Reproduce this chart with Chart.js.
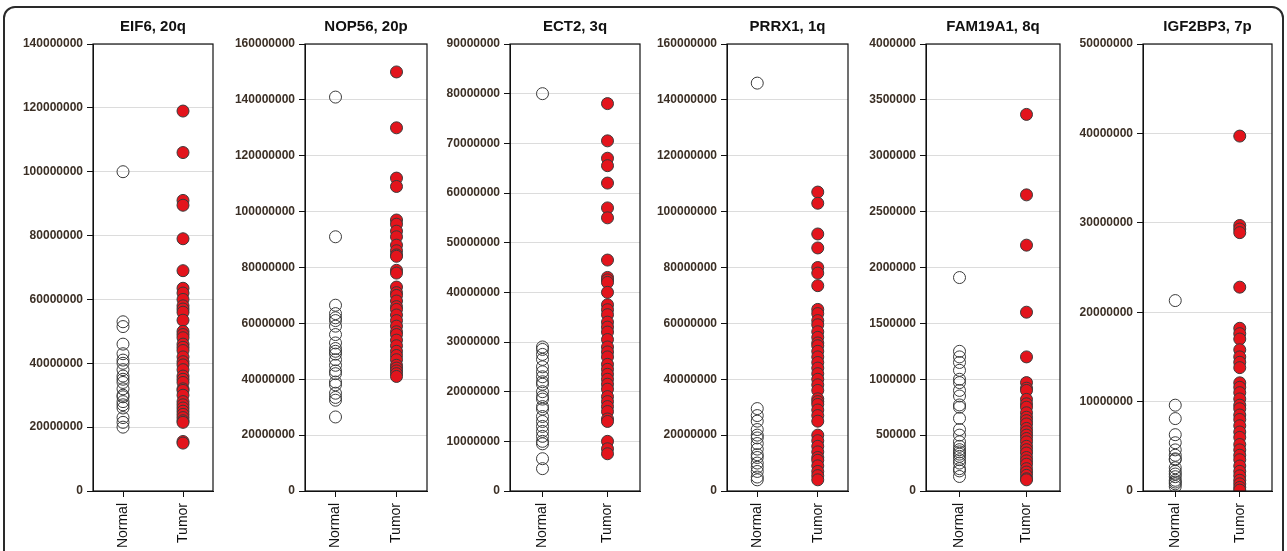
<!DOCTYPE html>
<html lang="en">
<head>
    <meta charset="UTF-8">
    <title>Expression, Normal vs Tumor</title>
    <script src="https://cdn.jsdelivr.net/npm/chart.js"></script>
    <style>
        body {
            margin: 0;
            padding: 0;
            background-color: #ffffff;
            font-family: Arial, "Liberation Sans", sans-serif;
        }
        #wrap {
            position: relative;
            width: 1287px;
            height: 551px;
            overflow: hidden;
        }
        #frame {
            position: absolute;
            left: 3px;
            top: 6px;
            width: 1277px;
            height: 620px;
            border: 2px solid #2a2a2a;
            border-radius: 12px;
        }
        .panel {
            position: absolute;
            top: 0;
            height: 551px;
        }
    </style>
</head>
<body>
    <div id="wrap">
        <div id="frame"></div>
    </div>

    <script>
        // categories and panel titles
        const groups = ['Normal', 'Tumor'];
        const titles = ['EIF6, 20q', 'NOP56, 20p', 'ECT2, 3q', 'PRRX1, 1q', 'FAM19A1, 8q', 'IGF2BP3, 7p'];
        const yMax = [140000000, 160000000, 90000000, 160000000, 4000000, 50000000];
        const yStep = [20000000, 20000000, 10000000, 20000000, 500000, 10000000];

        // values
        const eif6Normal = [100e6, 53e6, 51.5e6, 46e6, 43e6, 41e6, 40e6, 38e6, 36e6, 35e6, 34e6, 32e6, 30e6, 29.5e6, 28e6, 27e6, 26e6, 23e6, 21.5e6, 20e6];
        const eif6Tumor = [119e6, 106e6, 91e6, 89.5e6, 79e6, 69e6, 63.5e6, 62e6, 60e6, 58e6, 57e6, 56e6, 53.5e6, 50e6, 49e6, 48e6, 46e6, 45e6, 44e6, 42e6, 40.5e6, 39.5e6, 38e6, 36e6, 35e6, 34e6, 32e6, 31.5e6, 30e6, 28e6, 27e6, 26e6, 25e6, 24e6, 23e6, 22e6, 21.5e6, 15.5e6, 15e6];

        const nop56Normal = [141e6, 91e6, 66.5e6, 63.5e6, 62e6, 61e6, 59e6, 56e6, 53e6, 51e6, 50e6, 49e6, 47e6, 45e6, 43e6, 42e6, 39e6, 38e6, 35e6, 33.5e6, 32.5e6, 26.5e6];
        const nop56Tumor = [150e6, 130e6, 112e6, 109e6, 97e6, 95.5e6, 93e6, 91e6, 88e6, 86e6, 84.5e6, 84e6, 79e6, 78e6, 73e6, 71e6, 70e6, 68e6, 66e6, 65e6, 63e6, 61e6, 59e6, 57e6, 56e6, 54e6, 52e6, 50e6, 48.5e6, 47e6, 45e6, 44e6, 43e6, 42e6, 41e6];

        const ect2Normal = [80e6, 29e6, 28.5e6, 27.5e6, 26.5e6, 25e6, 24e6, 23e6, 22e6, 21.5e6, 20e6, 19e6, 18.5e6, 17e6, 16.5e6, 15e6, 14e6, 13e6, 12e6, 11e6, 10e6, 9.5e6, 6.5e6, 4.5e6];
        const ect2Tumor = [78e6, 70.5e6, 67e6, 65.5e6, 62e6, 57e6, 55e6, 46.5e6, 43e6, 42.5e6, 42e6, 40e6, 37.5e6, 36.5e6, 35.5e6, 34e6, 33e6, 32e6, 30.5e6, 29e6, 28e6, 27e6, 25.5e6, 24.5e6, 23.5e6, 22.5e6, 21.5e6, 20.5e6, 19e6, 18e6, 17e6, 16e6, 14.5e6, 14e6, 10e6, 8.5e6, 7.5e6];

        const prrx1Normal = [146e6, 29.5e6, 27e6, 25e6, 22e6, 20e6, 19e6, 17e6, 15e6, 13e6, 12e6, 10e6, 8.5e6, 7e6, 5e6, 4e6];
        const prrx1Tumor = [107e6, 103e6, 92e6, 87e6, 80e6, 78e6, 73.5e6, 65e6, 63.5e6, 61e6, 59.5e6, 57e6, 55e6, 53e6, 52e6, 50e6, 48e6, 46e6, 44e6, 42e6, 40e6, 38e6, 36e6, 33e6, 32e6, 31e6, 29e6, 27e6, 25e6, 20e6, 18e6, 16e6, 14e6, 12e6, 11e6, 9e6, 7e6, 5.5e6, 4e6];

        const fam19a1Normal = [1910000, 1250000, 1200000, 1150000, 1080000, 1000000, 970000, 900000, 850000, 770000, 750000, 650000, 550000, 500000, 440000, 400000, 370000, 350000, 330000, 310000, 280000, 250000, 200000, 180000, 130000];
        const fam19a1Tumor = [3370000, 2650000, 2200000, 1600000, 1200000, 970000, 920000, 900000, 820000, 780000, 750000, 700000, 660000, 630000, 600000, 560000, 530000, 500000, 470000, 440000, 400000, 370000, 340000, 300000, 270000, 240000, 200000, 170000, 140000, 110000, 100000];

        const igf2bp3Normal = [21.3e6, 9.6e6, 8.1e6, 6.3e6, 5.4e6, 4.6e6, 4.0e6, 3.6e6, 3.5e6, 2.6e6, 2.2e6, 1.9e6, 1.6e6, 1.2e6, 1.0e6, 0.8e6, 0.5e6];
        const igf2bp3Tumor = [39.7e6, 29.7e6, 29.3e6, 28.9e6, 22.8e6, 18.2e6, 17.6e6, 17.0e6, 15.8e6, 15.0e6, 14.4e6, 13.8e6, 12.1e6, 11.6e6, 11.0e6, 10.3e6, 9.6e6, 9.2e6, 8.5e6, 8.0e6, 7.3e6, 6.6e6, 6.0e6, 5.2e6, 4.6e6, 4.0e6, 3.5e6, 2.8e6, 2.2e6, 1.7e6, 1.2e6, 0.8e6, 0.4e6, 0.1e6];

        const normalSets = [eif6Normal, nop56Normal, ect2Normal, prrx1Normal, fam19a1Normal, igf2bp3Normal];
        const tumorSets = [eif6Tumor, nop56Tumor, ect2Tumor, prrx1Tumor, fam19a1Tumor, igf2bp3Tumor];

        // plot box edges in page pixels
        const plotLeft = [93, 305, 510, 727, 926, 1143];
        const plotRight = [213, 427, 640, 848, 1060, 1272];
        const axisWidth = 88;
        const fontFamily = 'Arial, "Liberation Sans", sans-serif';

        // title centred over the plot box + black frame round it
        const panelDecor = {
            id: 'panelDecor',
            afterDraw(chart, args, opts) {
                const { ctx, chartArea } = chart;
                ctx.save();
                ctx.strokeStyle = '#111';
                ctx.lineWidth = 1.2;
                ctx.strokeRect(chartArea.left, chartArea.top, chartArea.right - chartArea.left, chartArea.bottom - chartArea.top);
                ctx.fillStyle = '#111';
                ctx.font = 'bold 15px ' + fontFamily;
                ctx.textAlign = 'center';
                ctx.textBaseline = 'middle';
                ctx.fillText(opts.text, (chartArea.left + chartArea.right) / 2, 27);
                ctx.restore();
            }
        };

        const wrap = document.getElementById('wrap');

        titles.forEach((title, i) => {
            const left = plotLeft[i] - axisWidth;
            const width = plotRight[i] + 3 - left;
            const div = document.createElement('div');
            div.className = 'panel';
            div.style.left = left + 'px';
            div.style.width = width + 'px';
            const canvas = document.createElement('canvas');
            div.appendChild(canvas);
            wrap.appendChild(div);

            new Chart(canvas.getContext('2d'), {
                type: 'line',
                data: {
                    labels: groups,
                    datasets: [
                        {
                            label: 'Normal',
                            data: normalSets[i].map(v => ({ x: 'Normal', y: v })),
                            showLine: false,
                            pointRadius: 6,
                            pointBorderWidth: 1,
                            pointBackgroundColor: 'rgba(255,255,255,0)',
                            pointBorderColor: '#3a3a3a',
                        },
                        {
                            label: 'Tumor',
                            data: tumorSets[i].map(v => ({ x: 'Tumor', y: v })),
                            showLine: false,
                            pointRadius: 6,
                            pointBorderWidth: 1,
                            pointBackgroundColor: '#e3141c',
                            pointBorderColor: '#3a3a3a',
                        },
                    ],
                },
                plugins: [panelDecor],
                options: {
                    responsive: true,
                    maintainAspectRatio: false,
                    animation: false,
                    layout: {
                        autoPadding: false,
                        padding: { top: 44, right: 3, bottom: 0, left: 0 },
                    },
                    plugins: {
                        legend: { display: false },
                        tooltip: { enabled: false },
                        panelDecor: { text: title },
                    },
                    scales: {
                        x: {
                            type: 'category',
                            offset: true,
                            afterFit: (scale) => { scale.height = 60; },
                            grid: {
                                drawOnChartArea: false,
                                drawTicks: true,
                                tickLength: 6,
                                tickColor: '#111',
                            },
                            border: { color: '#111' },
                            ticks: {
                                color: '#111',
                                font: { size: 14, family: fontFamily },
                                minRotation: 90,
                                maxRotation: 90,
                                padding: 6,
                            },
                        },
                        y: {
                            min: 0,
                            max: yMax[i],
                            afterFit: (scale) => { scale.width = axisWidth; },
                            grid: {
                                color: '#dcdcdc',
                                tickColor: '#111',
                                tickLength: 6,
                            },
                            border: { color: '#111' },
                            ticks: {
                                stepSize: yStep[i],
                                color: '#3b2f25',
                                padding: 4,
                                font: { size: 12, weight: 'bold', family: fontFamily },
                                callback: (v) => String(v),
                            },
                        },
                    },
                },
            });
        });
    </script>
</body>
</html>
